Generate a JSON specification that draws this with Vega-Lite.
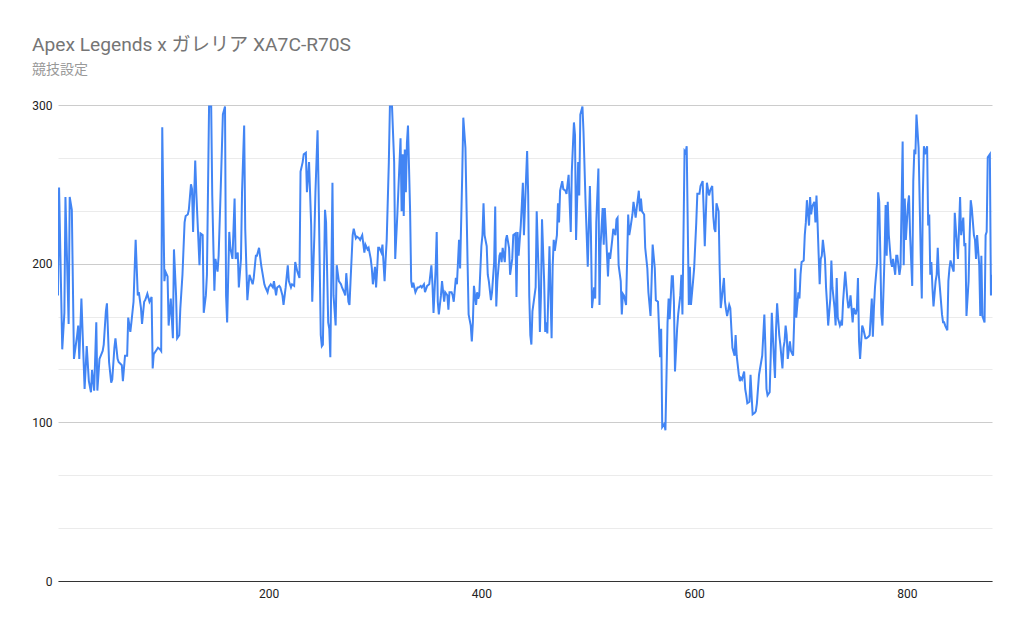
{
  "$schema": "https://vega.github.io/schema/vega-lite/v6.json",
  "width": 934,
  "height": 476,
  "autosize": {"type": "none"},
  "padding": {"left": 58, "top": 105, "right": 32, "bottom": 52},
  "background": "white",
  "title": {
    "text": "Apex Legends x ガレリア XA7C-R70S",
    "subtitle": "競技設定",
    "anchor": "start",
    "frame": "group",
    "dx": -26,
    "offset": 22,
    "fontSize": 19.2,
    "fontWeight": "normal",
    "color": "#757575",
    "subtitleFontSize": 14,
    "subtitleColor": "#999999",
    "subtitlePadding": 8
  },
  "data": {
    "values": [
      {"x":2,"y":180},{"x":3,"y":248},{"x":6,"y":146},{"x":8,"y":169},{"x":9,"y":242},{"x":12,"y":162},{"x":13,"y":242},{"x":15,"y":234},{"x":17,"y":140},{"x":20,"y":155},
      {"x":21,"y":161},{"x":22,"y":140},{"x":24,"y":178},{"x":26,"y":140},{"x":27,"y":121},{"x":29,"y":148},{"x":31,"y":126},{"x":33,"y":119},{"x":34,"y":133},{"x":36,"y":120},
      {"x":38,"y":163},{"x":39,"y":120},{"x":41,"y":140},{"x":44,"y":145},{"x":45,"y":149},{"x":47,"y":170},{"x":48,"y":175},{"x":50,"y":138},{"x":52,"y":125},{"x":53,"y":127},
      {"x":55,"y":147},{"x":56,"y":153},{"x":58,"y":140},{"x":59,"y":138},{"x":62,"y":136},{"x":63,"y":126},{"x":65,"y":142},{"x":67,"y":142},{"x":68,"y":166},{"x":70,"y":157},
      {"x":71,"y":163},{"x":73,"y":176},{"x":75,"y":215},{"x":77,"y":180},{"x":78,"y":182},{"x":80,"y":172},{"x":81,"y":162},{"x":83,"y":176},{"x":84,"y":177},{"x":86,"y":181},
      {"x":88,"y":176},{"x":90,"y":179},{"x":91,"y":134},{"x":92,"y":143},{"x":94,"y":145},{"x":96,"y":147},{"x":98,"y":146},{"x":99,"y":145},{"x":100,"y":286},{"x":102,"y":189},
      {"x":103,"y":195},{"x":105,"y":192},{"x":106,"y":161},{"x":108,"y":178},{"x":110,"y":153},{"x":111,"y":209},{"x":113,"y":180},{"x":114,"y":153},{"x":116,"y":155},{"x":117,"y":172},
      {"x":119,"y":193},{"x":121,"y":226},{"x":122,"y":230},{"x":124,"y":231},{"x":125,"y":234},{"x":127,"y":250},{"x":128,"y":247},{"x":129,"y":220},{"x":131,"y":265},{"x":132,"y":245},
      {"x":135,"y":199},{"x":136,"y":219},{"x":138,"y":218},{"x":139,"y":169},{"x":141,"y":180},{"x":142,"y":193},{"x":144,"y":299},{"x":146,"y":299},{"x":147,"y":243},{"x":149,"y":183},
      {"x":150,"y":203},{"x":152,"y":195},{"x":153,"y":205},{"x":155,"y":248},{"x":157,"y":294},{"x":159,"y":299},{"x":160,"y":180},{"x":161,"y":163},{"x":163,"y":220},{"x":164,"y":210},
      {"x":166,"y":203},{"x":168,"y":241},{"x":169,"y":203},{"x":171,"y":207},{"x":172,"y":185},{"x":174,"y":203},{"x":175,"y":245},{"x":177,"y":287},{"x":178,"y":222},{"x":180,"y":177},
      {"x":182,"y":193},{"x":183,"y":191},{"x":185,"y":187},{"x":186,"y":191},{"x":188,"y":205},{"x":189,"y":205},{"x":191,"y":210},{"x":193,"y":199},{"x":194,"y":195},{"x":196,"y":187},
      {"x":197,"y":185},{"x":199,"y":182},{"x":200,"y":185},{"x":202,"y":187},{"x":204,"y":185},{"x":205,"y":189},{"x":207,"y":180},{"x":208,"y":185},{"x":210,"y":186},{"x":211,"y":185},
      {"x":213,"y":180},{"x":214,"y":174},{"x":216,"y":185},{"x":218,"y":199},{"x":219,"y":189},{"x":221,"y":185},{"x":222,"y":187},{"x":224,"y":186},{"x":225,"y":201},{"x":227,"y":195},
      {"x":229,"y":191},{"x":230,"y":258},{"x":232,"y":264},{"x":233,"y":269},{"x":235,"y":270},{"x":236,"y":245},{"x":238,"y":264},{"x":240,"y":224},{"x":241,"y":176},{"x":243,"y":218},
      {"x":244,"y":245},{"x":246,"y":284},{"x":247,"y":245},{"x":249,"y":155},{"x":250,"y":148},{"x":251,"y":149},{"x":253,"y":234},{"x":254,"y":226},{"x":256,"y":163},{"x":257,"y":159},
      {"x":258,"y":141},{"x":260,"y":251},{"x":261,"y":180},{"x":263,"y":161},{"x":264,"y":199},{"x":266,"y":189},{"x":268,"y":187},{"x":269,"y":185},{"x":271,"y":182},{"x":272,"y":180},
      {"x":273,"y":194},{"x":275,"y":176},{"x":276,"y":174},{"x":277,"y":189},{"x":279,"y":218},{"x":280,"y":222},{"x":282,"y":216},{"x":283,"y":217},{"x":285,"y":216},{"x":286,"y":215},
      {"x":288,"y":218},{"x":290,"y":207},{"x":291,"y":212},{"x":293,"y":209},{"x":294,"y":210},{"x":296,"y":203},{"x":297,"y":197},{"x":298,"y":187},{"x":300,"y":198},{"x":301,"y":185},
      {"x":302,"y":196},{"x":303,"y":210},{"x":304,"y":210},{"x":306,"y":207},{"x":307,"y":212},{"x":309,"y":189},{"x":310,"y":203},{"x":311,"y":215},{"x":313,"y":264},{"x":314,"y":299},
      {"x":316,"y":299},{"x":318,"y":264},{"x":319,"y":203},{"x":321,"y":231},{"x":322,"y":247},{"x":324,"y":279},{"x":325,"y":233},{"x":326,"y":269},{"x":327,"y":230},{"x":328,"y":272},
      {"x":329,"y":245},{"x":330,"y":276},{"x":331,"y":287},{"x":333,"y":233},{"x":334,"y":189},{"x":335,"y":185},{"x":336,"y":188},{"x":338,"y":182},{"x":340,"y":185},{"x":341,"y":185},
      {"x":343,"y":186},{"x":344,"y":185},{"x":346,"y":187},{"x":347,"y":182},{"x":349,"y":186},{"x":351,"y":187},{"x":353,"y":199},{"x":354,"y":187},{"x":355,"y":169},{"x":357,"y":197},
      {"x":358,"y":220},{"x":359,"y":176},{"x":360,"y":168},{"x":362,"y":180},{"x":363,"y":189},{"x":365,"y":176},{"x":366,"y":182},{"x":368,"y":180},{"x":369,"y":171},{"x":370,"y":182},
      {"x":372,"y":182},{"x":373,"y":180},{"x":374,"y":176},{"x":376,"y":191},{"x":377,"y":187},{"x":379,"y":215},{"x":380,"y":197},{"x":382,"y":256},{"x":383,"y":292},{"x":385,"y":273},
      {"x":387,"y":201},{"x":388,"y":168},{"x":390,"y":161},{"x":391,"y":151},{"x":392,"y":163},{"x":393,"y":186},{"x":395,"y":174},{"x":396,"y":182},{"x":397,"y":178},{"x":398,"y":180},
      {"x":400,"y":211},{"x":401,"y":218},{"x":402,"y":238},{"x":403,"y":218},{"x":405,"y":211},{"x":406,"y":193},{"x":407,"y":189},{"x":409,"y":177},{"x":410,"y":182},{"x":412,"y":201},
      {"x":413,"y":236},{"x":414,"y":173},{"x":415,"y":189},{"x":417,"y":205},{"x":418,"y":207},{"x":419,"y":201},{"x":420,"y":210},{"x":422,"y":201},{"x":423,"y":215},{"x":424,"y":218},
      {"x":426,"y":210},{"x":427,"y":193},{"x":429,"y":203},{"x":430,"y":218},{"x":432,"y":219},{"x":433,"y":179},{"x":434,"y":220},{"x":435,"y":205},{"x":437,"y":224},{"x":438,"y":237},
      {"x":439,"y":251},{"x":440,"y":218},{"x":442,"y":254},{"x":443,"y":271},{"x":444,"y":243},{"x":445,"y":180},{"x":446,"y":155},{"x":447,"y":149},{"x":448,"y":170},{"x":450,"y":180},
      {"x":451,"y":185},{"x":452,"y":233},{"x":454,"y":189},{"x":455,"y":157},{"x":456,"y":180},{"x":457,"y":228},{"x":459,"y":189},{"x":460,"y":157},{"x":461,"y":163},{"x":462,"y":156},
      {"x":464,"y":211},{"x":465,"y":180},{"x":466,"y":153},{"x":467,"y":198},{"x":468,"y":215},{"x":469,"y":208},{"x":471,"y":218},{"x":472,"y":238},{"x":473,"y":226},{"x":474,"y":246},
      {"x":476,"y":252},{"x":477,"y":247},{"x":479,"y":246},{"x":480,"y":244},{"x":482,"y":256},{"x":484,"y":220},{"x":485,"y":258},{"x":487,"y":289},{"x":488,"y":281},{"x":489,"y":215},
      {"x":491,"y":264},{"x":492,"y":243},{"x":493,"y":294},{"x":495,"y":299},{"x":496,"y":283},{"x":498,"y":237},{"x":499,"y":218},{"x":500,"y":198},{"x":502,"y":249},{"x":503,"y":218},
      {"x":504,"y":172},{"x":506,"y":185},{"x":507,"y":178},{"x":508,"y":226},{"x":510,"y":260},{"x":511,"y":174},{"x":512,"y":211},{"x":514,"y":235},{"x":515,"y":212},{"x":516,"y":235},
      {"x":517,"y":222},{"x":519,"y":192},{"x":520,"y":207},{"x":521,"y":203},{"x":523,"y":215},{"x":524,"y":222},{"x":526,"y":218},{"x":527,"y":228},{"x":528,"y":229},{"x":529,"y":199},
      {"x":531,"y":189},{"x":532,"y":168},{"x":533,"y":181},{"x":534,"y":180},{"x":536,"y":174},{"x":538,"y":231},{"x":539,"y":218},{"x":540,"y":222},{"x":542,"y":231},{"x":543,"y":239},
      {"x":545,"y":229},{"x":546,"y":235},{"x":548,"y":246},{"x":549,"y":233},{"x":550,"y":241},{"x":551,"y":233},{"x":553,"y":231},{"x":554,"y":210},{"x":556,"y":197},{"x":557,"y":182},
      {"x":559,"y":167},{"x":560,"y":189},{"x":561,"y":212},{"x":563,"y":197},{"x":564,"y":177},{"x":566,"y":176},{"x":567,"y":159},{"x":568,"y":141},{"x":569,"y":159},{"x":570,"y":97},
      {"x":572,"y":99},{"x":573,"y":95},{"x":575,"y":163},{"x":576,"y":178},{"x":577,"y":165},{"x":579,"y":192},{"x":580,"y":192},{"x":581,"y":176},{"x":582,"y":132},{"x":584,"y":159},
      {"x":585,"y":168},{"x":587,"y":180},{"x":588,"y":193},{"x":589,"y":168},{"x":591,"y":271},{"x":592,"y":270},{"x":593,"y":274},{"x":595,"y":174},{"x":596,"y":198},{"x":597,"y":174},
      {"x":599,"y":189},{"x":600,"y":197},{"x":602,"y":226},{"x":603,"y":244},{"x":605,"y":244},{"x":606,"y":249},{"x":608,"y":252},{"x":609,"y":233},{"x":610,"y":211},{"x":612,"y":251},
      {"x":614,"y":243},{"x":615,"y":246},{"x":617,"y":249},{"x":618,"y":230},{"x":619,"y":222},{"x":620,"y":220},{"x":621,"y":238},{"x":623,"y":233},{"x":624,"y":197},{"x":625,"y":172},
      {"x":626,"y":178},{"x":628,"y":191},{"x":629,"y":176},{"x":630,"y":171},{"x":631,"y":167},{"x":633,"y":174},{"x":634,"y":172},{"x":635,"y":159},{"x":636,"y":147},{"x":638,"y":142},
      {"x":639,"y":155},{"x":640,"y":142},{"x":642,"y":130},{"x":643,"y":126},{"x":644,"y":128},{"x":645,"y":127},{"x":647,"y":132},{"x":648,"y":121},{"x":649,"y":117},{"x":650,"y":112},
      {"x":652,"y":113},{"x":653,"y":130},{"x":654,"y":117},{"x":655,"y":105},{"x":657,"y":106},{"x":658,"y":107},{"x":659,"y":112},{"x":661,"y":130},{"x":663,"y":138},{"x":664,"y":142},
      {"x":666,"y":168},{"x":667,"y":147},{"x":668,"y":121},{"x":669,"y":117},{"x":671,"y":119},{"x":672,"y":142},{"x":673,"y":169},{"x":675,"y":140},{"x":676,"y":128},{"x":677,"y":159},
      {"x":678,"y":175},{"x":680,"y":155},{"x":681,"y":149},{"x":683,"y":134},{"x":684,"y":147},{"x":685,"y":151},{"x":686,"y":161},{"x":687,"y":155},{"x":688,"y":140},{"x":690,"y":151},
      {"x":691,"y":145},{"x":693,"y":142},{"x":694,"y":163},{"x":695,"y":197},{"x":696,"y":166},{"x":698,"y":182},{"x":699,"y":178},{"x":700,"y":193},{"x":701,"y":201},{"x":703,"y":202},
      {"x":704,"y":218},{"x":705,"y":226},{"x":706,"y":240},{"x":708,"y":224},{"x":709,"y":242},{"x":710,"y":231},{"x":711,"y":236},{"x":713,"y":239},{"x":714,"y":226},{"x":715,"y":243},
      {"x":716,"y":226},{"x":718,"y":187},{"x":719,"y":203},{"x":720,"y":205},{"x":721,"y":215},{"x":723,"y":203},{"x":724,"y":185},{"x":725,"y":174},{"x":726,"y":161},{"x":728,"y":178},
      {"x":729,"y":202},{"x":730,"y":185},{"x":732,"y":172},{"x":733,"y":161},{"x":734,"y":191},{"x":735,"y":166},{"x":737,"y":161},{"x":738,"y":163},{"x":739,"y":161},{"x":740,"y":176},
      {"x":742,"y":195},{"x":744,"y":178},{"x":745,"y":172},{"x":746,"y":174},{"x":747,"y":180},{"x":749,"y":163},{"x":750,"y":172},{"x":751,"y":170},{"x":752,"y":168},{"x":753,"y":172},
      {"x":754,"y":191},{"x":755,"y":151},{"x":756,"y":140},{"x":758,"y":161},{"x":759,"y":159},{"x":761,"y":153},{"x":762,"y":153},{"x":764,"y":154},{"x":765,"y":155},{"x":767,"y":178},
      {"x":768,"y":154},{"x":769,"y":172},{"x":770,"y":185},{"x":772,"y":201},{"x":773,"y":245},{"x":774,"y":239},{"x":775,"y":207},{"x":776,"y":168},{"x":777,"y":161},{"x":779,"y":205},
      {"x":780,"y":237},{"x":781,"y":205},{"x":782,"y":239},{"x":783,"y":218},{"x":785,"y":201},{"x":786,"y":198},{"x":787,"y":203},{"x":789,"y":193},{"x":790,"y":205},{"x":791,"y":205},
      {"x":793,"y":193},{"x":794,"y":198},{"x":796,"y":277},{"x":797,"y":199},{"x":798,"y":241},{"x":799,"y":215},{"x":801,"y":237},{"x":802,"y":243},{"x":803,"y":218},{"x":805,"y":186},
      {"x":806,"y":252},{"x":807,"y":272},{"x":808,"y":269},{"x":809,"y":294},{"x":811,"y":273},{"x":812,"y":239},{"x":813,"y":205},{"x":814,"y":178},{"x":815,"y":243},{"x":816,"y":274},
      {"x":817,"y":269},{"x":819,"y":274},{"x":820,"y":224},{"x":821,"y":231},{"x":822,"y":193},{"x":823,"y":201},{"x":824,"y":185},{"x":825,"y":173},{"x":827,"y":189},{"x":828,"y":193},
      {"x":829,"y":210},{"x":830,"y":193},{"x":831,"y":185},{"x":833,"y":168},{"x":834,"y":163},{"x":835,"y":163},{"x":836,"y":161},{"x":838,"y":158},{"x":839,"y":189},{"x":840,"y":197},
      {"x":841,"y":202},{"x":843,"y":197},{"x":844,"y":195},{"x":845,"y":232},{"x":846,"y":222},{"x":848,"y":203},{"x":849,"y":222},{"x":850,"y":242},{"x":851,"y":218},{"x":853,"y":229},
      {"x":854,"y":211},{"x":855,"y":213},{"x":856,"y":167},{"x":858,"y":189},{"x":859,"y":218},{"x":860,"y":240},{"x":861,"y":235},{"x":863,"y":218},{"x":864,"y":215},{"x":865,"y":203},
      {"x":866,"y":218},{"x":868,"y":199},{"x":869,"y":167},{"x":870,"y":205},{"x":871,"y":167},{"x":873,"y":163},{"x":874,"y":218},{"x":875,"y":220},{"x":876,"y":267},{"x":878,"y":269},
      {"x":879,"y":180},{"x":880,"y":193}
    ]
  },
  "mark": {"type": "line", "color": "#4285F4", "strokeWidth": 2, "clip": true},
  "encoding": {
    "x": {
      "field": "x",
      "type": "quantitative",
      "title": null,
      "scale": {"domain": [2, 880], "nice": false, "zero": false},
      "axis": {
        "values": [200, 400, 600, 800],
        "grid": false,
        "ticks": false,
        "domainColor": "#333333",
        "labelColor": "#222222",
        "labelFontSize": 12,
        "labelPadding": 7
      }
    },
    "y": {
      "field": "y",
      "type": "quantitative",
      "title": null,
      "scale": {"domain": [0, 300], "nice": false},
      "axis": {
        "values": [0, 33.333333, 66.666667, 100, 133.333333, 166.666667, 200, 233.333333, 266.666667, 300],
        "labelExpr": "datum.value % 100 === 0 ? datum.label : ''",
        "gridColor": {"condition": {"test": "datum.value % 100 === 0", "value": "#cccccc"}, "value": "#ebebeb"},
        "ticks": false,
        "domain": false,
        "labelColor": "#222222",
        "labelFontSize": 12,
        "labelPadding": 6
      }
    }
  },
  "config": {
    "view": {"stroke": null},
    "font": "Roboto, Noto Sans CJK JP, sans-serif"
  }
}
